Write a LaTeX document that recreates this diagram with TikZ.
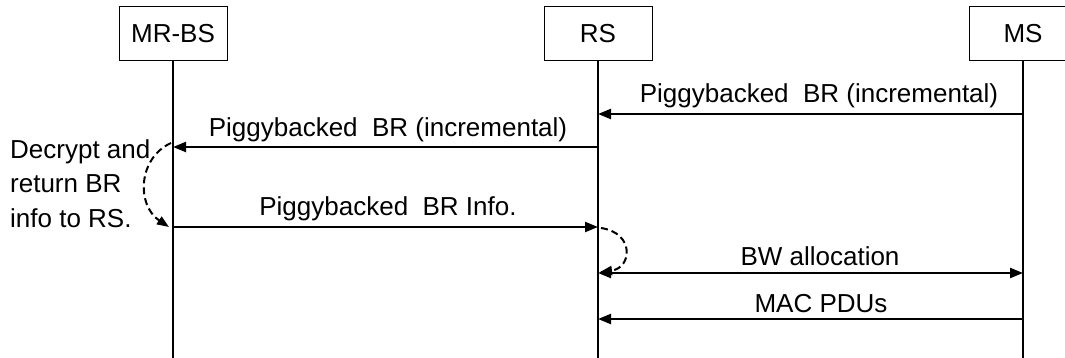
\documentclass[tikz,border=0pt]{standalone}
\usepackage{fontspec}
\setmainfont{Liberation Sans}
\usetikzlibrary{arrows.meta}
\begin{document}
\begin{tikzpicture}[x=1pt,y=-1pt,
  entity/.style={draw, line width=1pt, minimum width=108pt, minimum height=54pt, inner sep=0pt, font=\fontsize{26}{34.5}\selectfont},
  life/.style={line width=1.3pt},
  msg/.style={line width=2.2pt, -{Triangle[length=13pt,width=10pt]}},
  dmsg/.style={line width=2.2pt, {Triangle[length=13pt,width=10pt]}-{Triangle[length=13pt,width=10pt]}},
  lbl/.style={font=\fontsize{26}{34.5}\selectfont, anchor=base, inner sep=0pt},
  proc/.style={dash pattern=on 7pt off 4pt, line width=2pt, -{Triangle[length=12pt,width=9pt]}}]
\useasboundingbox (0,0) rectangle (1065,358);
\clip (0,0) rectangle (1065,358);

% entities
\node[entity] (mrbs) at (173,34) {MR-BS};
\node[entity] (rs) at (598,34) {RS};
\node[entity] (ms) at (1023,34) {MS};

% lifeline ends
\coordinate (mrbsEnd) at (173,360);
\coordinate (rsEnd) at (598,360);
\coordinate (msEnd) at (1023,360);
\draw[life] (mrbs.south) -- (mrbsEnd);
\draw[life] (rs.south) -- (rsEnd);
\draw[life] (ms.south) -- (msEnd);

% message points
\coordinate (ms1) at (1023,114);
\coordinate (rs1) at (598,114);
\coordinate (rs2) at (598,147);
\coordinate (bs2) at (173,147);
\coordinate (bs3) at (173,227);
\coordinate (rs3) at (598,227);
\coordinate (rs4) at (598,273);
\coordinate (ms4) at (1023,273);
\coordinate (ms5) at (1023,319);
\coordinate (rs5) at (598,319);

\draw[msg] (ms1) -- (rs1);
\node[lbl] (l1) at (819,103) {Piggybacked\ \ BR (incremental)};
\draw[msg] (rs2) -- (bs2);
\node[lbl] (l2) at (388,137) {Piggybacked\ \ BR (incremental)};
\draw[msg] (bs3) -- (rs3);
\node[lbl] (l3) at (388,215) {Piggybacked\ \ BR Info.};
\draw[dmsg] (rs4) -- (ms4);
\node[lbl] (l4) at (820,265) {BW allocation};
\draw[msg] (ms5) -- (rs5);
\node[lbl] (l5) at (821,312) {MAC PDUs};

% processing curves
\coordinate (c1s) at (171,143);
\coordinate (c1e) at (169,227);
\draw[proc] (c1s) .. controls (138,158) and (136,205) .. (c1e);
\coordinate (c2s) at (601,228);
\coordinate (c2e) at (600,272);
\draw[proc] (c2s) .. controls (635,233) and (632,268) .. (c2e);

\node[font=\fontsize{26}{34.5}\selectfont, align=left, anchor=north west, inner sep=0pt] (note) at (10,139)
  {Decrypt and\\return BR\\info to RS.};
\end{tikzpicture}
\end{document}
